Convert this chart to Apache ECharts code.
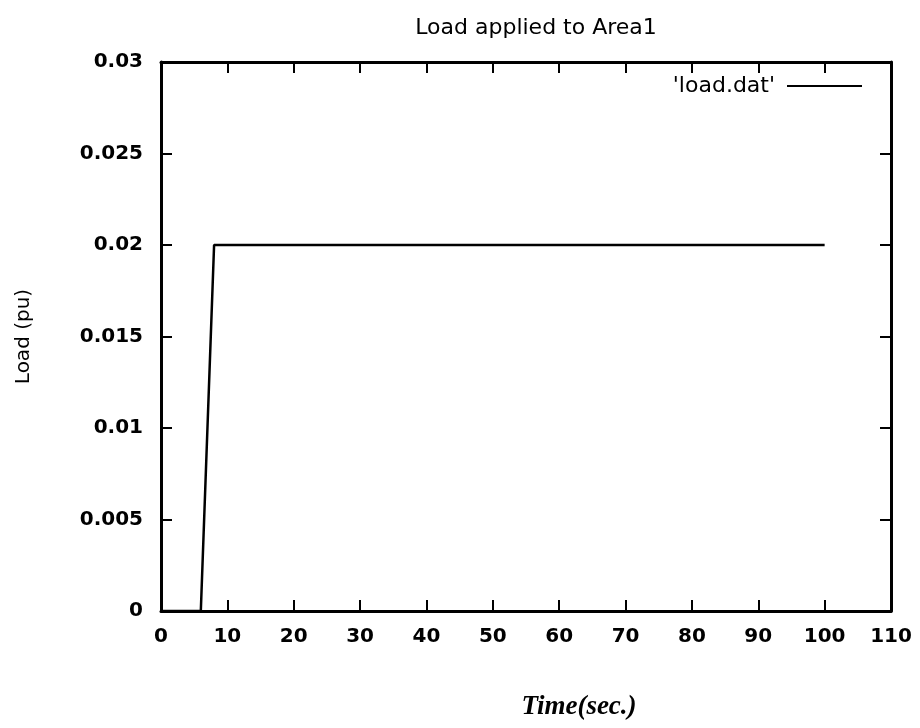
<!DOCTYPE html>
<html>
<head>
<meta charset="utf-8">
<script src="https://cdn.jsdelivr.net/npm/echarts@6/dist/echarts.min.js"></script>
<style>
  html, body { margin: 0; padding: 0; background: #fff; }
  #chart { width: 920px; height: 728px; }
</style>
</head>
<body>
<div id="chart"></div>
<script>
// data
var timeSec = [0, 6, 8, 100];
var loadPu = [0, 0, 0.02, 0.02];
var seriesName = "'load.dat'";

var points = timeSec.map(function (t, i) { return [t, loadPu[i]]; });

var labelFont = { fontFamily: 'DejaVu Sans', fontSize: 20, color: '#000', fontWeight: 'bold' };
var axisLine = { show: true, onZero: false, lineStyle: { color: '#000', width: 3 } };
var tick = { show: true, inside: true, length: 11, lineStyle: { color: '#000', width: 2 } };

var chart = echarts.init(document.getElementById('chart'));
chart.setOption({
  backgroundColor: '#fff',
  animation: false,
  title: {
    text: 'Load applied to Area1',
    left: 531, top: 12, textAlign: 'center',
    textStyle: { fontFamily: 'DejaVu Sans', fontSize: 22, fontWeight: 'normal', color: '#000' }
  },
  legend: {
    data: [seriesName],
    right: 53, top: 70,
    align: 'right',
    icon: 'rect',
    itemWidth: 75, itemHeight: 2,
    textStyle: { fontFamily: 'DejaVu Sans', fontSize: 22, color: '#000', padding: [0, 7, 0, 0] }
  },
  grid: { left: 161, right: 29, top: 62, bottom: 117 },
  xAxis: [{
    type: 'value', min: 0, max: 110, interval: 10,
    position: 'bottom',
    name: 'Time(sec.)', nameLocation: 'middle', nameGap: 83,
    nameTextStyle: { fontFamily: 'Liberation Serif', fontStyle: 'italic', fontWeight: 'bold', fontSize: 27, color: '#000', padding: [0, 0, 0, 106] },
    axisLine: axisLine, axisTick: tick,
    axisLabel: Object.assign({ margin: 16 }, labelFont),
    splitLine: { show: false }
  }, {
    type: 'value', min: 0, max: 110, interval: 10,
    position: 'top',
    axisLine: axisLine, axisTick: tick,
    axisLabel: { show: false }, splitLine: { show: false }
  }],
  yAxis: [{
    type: 'value', min: 0, max: 0.03, interval: 0.005,
    position: 'left',
    name: 'Load (pu)', nameLocation: 'middle', nameGap: 127, nameRotate: 90,
    nameTextStyle: { fontFamily: 'DejaVu Sans', fontSize: 20, color: '#000' },
    axisLine: axisLine, axisTick: tick,
    axisLabel: Object.assign({ margin: 18 }, labelFont),
    splitLine: { show: false }
  }, {
    type: 'value', min: 0, max: 0.03, interval: 0.005,
    position: 'right',
    axisLine: axisLine, axisTick: tick,
    axisLabel: { show: false }, splitLine: { show: false }
  }],
  series: [{
    name: seriesName,
    type: 'line',
    data: points,
    showSymbol: false,
    symbol: 'none',
    itemStyle: { color: '#000' },
    lineStyle: { color: '#000', width: 2.5 }
  }]
});
</script>
</body>
</html>
